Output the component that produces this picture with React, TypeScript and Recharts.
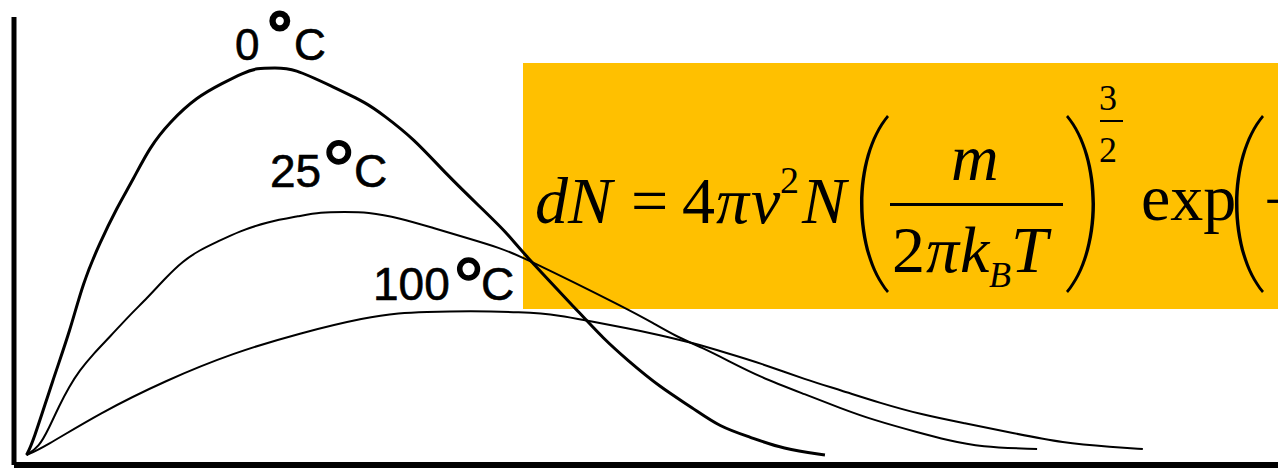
import React from "react";
import { LineChart, Line, XAxis, YAxis, Customized } from "recharts";

// Molecular speed (m/s) and relative population for each temperature
const speed0C = [0, 10, 42, 70, 90, 117, 145, 170, 197, 229, 272, 314, 346, 368, 397, 426, 490, 544, 570, 618, 672, 725, 768, 789, 884, 921, 960, 1012, 1065, 1108, 1156, 1209, 1276];
const dist0C = [0, 0.12, 0.75, 1.25, 1.72, 2.12, 2.48, 2.75, 3.08, 3.33, 3.58, 3.72, 3.82, 3.87, 3.87, 3.87, 3.68, 3.52, 3.4, 3.17, 2.8, 2.48, 2.22, 2.05, 1.42, 1.17, 0.95, 0.68, 0.47, 0.28, 0.18, 0.06, 0];

const speed25C = [0, 20, 36, 52, 68, 84, 108, 133, 165, 193, 222, 250, 277, 304, 341, 384, 437, 469, 509, 544, 597, 650, 704, 757, 793, 964, 1001, 1040, 1081, 1119, 1172, 1247, 1300, 1353, 1428, 1471, 1524, 1615];
const dist25C = [0, 0.08, 0.27, 0.49, 0.68, 0.84, 1.02, 1.18, 1.4, 1.57, 1.77, 1.94, 2.05, 2.13, 2.24, 2.33, 2.39, 2.43, 2.43, 2.43, 2.37, 2.27, 2.17, 2.07, 1.98, 1.45, 1.32, 1.18, 1.07, 0.95, 0.78, 0.6, 0.47, 0.35, 0.22, 0.15, 0.08, 0.06];

const speed100C = [0, 26, 117, 224, 330, 437, 544, 597, 634, 709, 789, 853, 905, 960, 1012, 1065, 1119, 1172, 1247, 1300, 1364, 1433, 1497, 1576, 1656, 1736, 1784];
const dist100C = [0, 0.07, 0.42, 0.75, 1.02, 1.22, 1.38, 1.42, 1.43, 1.44, 1.43, 1.4, 1.33, 1.27, 1.2, 1.12, 1.02, 0.92, 0.75, 0.65, 0.52, 0.4, 0.32, 0.22, 0.12, 0.08, 0.06];

const toSeries = (speeds: number[], values: number[]) =>
  speeds.map((v, i) => ({ v, f: values[i] }));

const series0 = toSeries(speed0C, dist0C);
const series25 = toSeries(speed25C, dist25C);
const series100 = toSeries(speed100C, dist100C);

const SANS = "'Liberation Sans', Arial, sans-serif";
const SERIF = "'Liberation Serif', 'Times New Roman', serif";

// Temperature caption: number, large degree ring, then "C"
const TempLabel = ({ num, nx, ny, size, dx, dy, dsize, dstroke, cx }: any) => (
  <text fontFamily={SANS} fill="#000" stroke="#000" strokeWidth={0.6}>
    <tspan x={nx} y={ny} fontSize={size}>{num}</tspan>
    <tspan x={dx} y={dy} fontSize={dsize} strokeWidth={dstroke}>°</tspan>
    <tspan x={cx} y={ny} fontSize={size}>C</tspan>
  </text>
);

// Tall bracket drawn as a filled crescent
const leftParen = (x: number, top: number, bottom: number) => {
  const mid1 = top + (bottom - top) * 0.24;
  const mid2 = top + (bottom - top) * 0.76;
  return `M ${x} ${top} C ${x - 36} ${mid1}, ${x - 36} ${mid2}, ${x} ${bottom} L ${x + 2} ${bottom - 2} C ${x - 32} ${mid2}, ${x - 32} ${mid1}, ${x + 2} ${top + 2} Z`;
};
const rightParen = (x: number, top: number, bottom: number) => {
  const mid1 = top + (bottom - top) * 0.24;
  const mid2 = top + (bottom - top) * 0.76;
  return `M ${x} ${top} C ${x + 36} ${mid1}, ${x + 36} ${mid2}, ${x} ${bottom} L ${x - 2} ${bottom - 2} C ${x + 32} ${mid2}, ${x + 32} ${mid1}, ${x - 2} ${top + 2} Z`;
};

const Annotations = () => (
  <g>
    <TempLabel num="0" nx={235} ny={60} size={44} dx={267} dy={57} dsize={64} dstroke={3} cx={294} />
    <TempLabel num="25" nx={270} ny={187} size={46} dx={322} dy={199} dsize={84} dstroke={1.4} cx={354} />
    <TempLabel num="100" nx={373} ny={300} size={46} dx={453} dy={313} dsize={78} dstroke={1.4} cx={481} />

    {/* Maxwell–Boltzmann formula panel */}
    <rect x={523} y={63} width={760} height={246} fill="#FFC000" />
    <g fontFamily={SERIF} fill="#000">
      <text x={535} y={223} fontSize={66} fontStyle="italic">dN</text>
      <text x={631} y={223} fontSize={66}>=</text>
      <text x={682} y={223} fontSize={66}>4</text>
      <text x={716} y={223} fontSize={66} fontStyle="italic">π</text>
      <text x={751} y={223} fontSize={66} fontStyle="italic">v</text>
      <text x={780} y={193} fontSize={38}>2</text>
      <text x={802} y={223} fontSize={66} fontStyle="italic">N</text>
      <path d={leftParen(887, 115, 293)} />
      <text x={951} y={180} fontSize={66} fontStyle="italic">m</text>
      <rect x={890} y={203} width={173} height={3} />
      <text x={892} y={272} fontSize={66}>2</text>
      <text x={926} y={272} fontSize={66} fontStyle="italic">π</text>
      <text x={960} y={272} fontSize={66} fontStyle="italic">k</text>
      <text x={989} y={287} fontSize={36} fontStyle="italic">B</text>
      <text x={1011} y={272} fontSize={66} fontStyle="italic">T</text>
      <path d={rightParen(1068, 115, 293)} />
      <text x={1099} y={110} fontSize={36}>3</text>
      <rect x={1100} y={120} width={23} height={2} />
      <text x={1099} y={162} fontSize={36}>2</text>
      <text x={1141} y={220} fontSize={66}>exp</text>
      <path d={leftParen(1262, 115, 293)} />
      <text x={1264} y={223} fontSize={66}>−</text>
    </g>
  </g>
);

export default function App() {
  return (
    <div style={{ position: "absolute", left: 0, top: 0, width: 1278, height: 468, background: "#fff" }}>
      <LineChart width={1278} height={468} margin={{ top: 17, right: 0, left: -46, bottom: -27 }}>
        <XAxis
          type="number"
          dataKey="v"
          domain={[-20, 2000]}
          allowDataOverflow
          height={30}
          tick={false}
          tickLine={false}
          axisLine={{ stroke: "#000", strokeWidth: 6 }}
        />
        <YAxis
          type="number"
          dataKey="f"
          domain={[-0.1, 4.38]}
          allowDataOverflow
          width={60}
          tick={false}
          tickLine={false}
          axisLine={{ stroke: "#000", strokeWidth: 5 }}
        />
        <Line data={series0} dataKey="f" type="basis" stroke="#000" strokeWidth={3} dot={false} isAnimationActive={false} />
        <Line data={series25} dataKey="f" type="basis" stroke="#000" strokeWidth={2} dot={false} isAnimationActive={false} />
        <Line data={series100} dataKey="f" type="basis" stroke="#000" strokeWidth={2} dot={false} isAnimationActive={false} />
        <Customized component={Annotations} />
      </LineChart>
    </div>
  );
}
